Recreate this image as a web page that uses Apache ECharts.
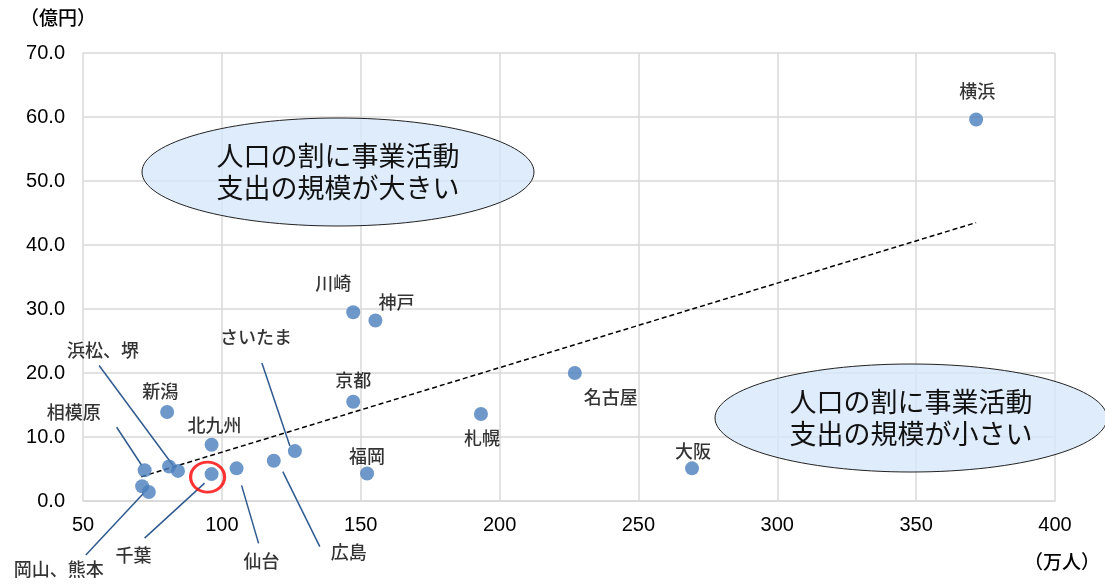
<!DOCTYPE html>
<html>
<head>
<meta charset="utf-8">
<script src="https://cdn.jsdelivr.net/npm/echarts@6/dist/echarts.min.js"></script>
<style>
html, body { margin: 0; padding: 0; background: #fff; }
#chart { width: 1105px; height: 584px; }
</style>
</head>
<body>
<div id="chart"></div>
<script>
// population (万人) vs. spending (億円)
var cities = ['横浜', '川崎', '神戸', '京都', '名古屋', '札幌', '福岡', '大阪', 'さいたま', '広島',
    '仙台', '千葉', '北九州', '新潟', '浜松', '堺', '相模原', '岡山', '熊本'];
var population = [371.6, 147.3, 155.3, 147.3, 227.1, 193.3, 152.3, 269.3, 126.3, 118.7,
    105.3, 96.3, 96.3, 80.3, 81.0, 84.2, 72.2, 71.3, 73.7];
var spending = [59.6, 29.5, 28.2, 15.5, 20.0, 13.6, 4.3, 5.1, 7.8, 6.3,
    5.1, 4.2, 8.8, 13.9, 5.4, 4.7, 4.8, 2.3, 1.4];
var pointLabels = ['横浜', '川崎', '神戸', '京都', '名古屋', '札幌', '福岡', '大阪', 'さいたま', '広島',
    '仙台', '千葉', '北九州', '新潟', '浜松、堺', '', '相模原', '', '岡山、熊本'];
var trendX = [71.0, 371.6];
var trendY = [3.8, 43.5];
var highlightCity = '千葉';
var noteBig = ['人口の割に事業活動', '支出の規模が大きい'];
var noteSmall = ['人口の割に事業活動', '支出の規模が小さい'];

// label placement (pixel offsets from the dot)
var labelOffset = {
    '横浜': [1, -28], '川崎': [-20, -29], '神戸': [21, -18], '京都': [0, -22],
    '名古屋': [36, 24], '札幌': [1, 24], '福岡': [0, -17], '大阪': [1, -17],
    'さいたま': [-39, -114], '広島': [75, 91], '仙台': [25, 93], '千葉': [-78, 81],
    '北九州': [3, -20], '新潟': [-7, -21], '浜松': [-66, -116], '相模原': [-71, -58],
    '熊本': [-90, 77]
};
var leaderLines = {
    '浜松': [[-70, -101], [4, -1]],
    '相模原': [[-28, -43], [-3, -5]],
    'さいたま': [[-33, -88], [-5, -5]],
    '熊本': [[-63, 63], [-5, 1]],
    '千葉': [[-67, 64], [-7, 9]],
    '仙台': [[5, 17], [22, 75]],
    '広島': [[9, 11], [46, 86]]
};

var jp = '"Noto Sans CJK JP", sans-serif';
var num = '"Liberation Sans", Arial, sans-serif';

var points = cities.map(function (c, i) {
    var off = labelOffset[c] || [0, 0];
    return {
        name: c,
        value: [population[i], spending[i]],
        label: { offset: off, formatter: pointLabels[i] }
    };
});
var hi = cities.indexOf(highlightCity);

var chart = echarts.init(document.getElementById('chart'));
chart.setOption({
    animation: false,
    backgroundColor: '#fff',
    grid: { left: 83, right: 50, top: 53, bottom: 83 },
    xAxis: {
        type: 'value', min: 50, max: 400, interval: 50,
        axisLine: { show: true, lineStyle: { color: '#d9d9d9', width: 1.5 } },
        axisTick: { show: false },
        axisLabel: { color: '#000', fontSize: 20, fontFamily: num, margin: 14 },
        splitLine: { show: true, lineStyle: { color: '#d9d9d9', width: 1.5 } }
    },
    yAxis: {
        type: 'value', min: 0, max: 70, interval: 10,
        axisLine: { show: false },
        axisTick: { show: false },
        axisLabel: {
            color: '#000', fontSize: 20, fontFamily: num, margin: 18,
            formatter: function (v) { return v.toFixed(1); }
        },
        splitLine: { show: true, lineStyle: { color: '#d9d9d9', width: 1.5 } }
    },
    series: [
        {
            type: 'line',
            data: [[trendX[0], trendY[0]], [trendX[1], trendY[1]]],
            symbol: 'none',
            lineStyle: { color: '#000', width: 1.5, type: [5, 3] },
            z: 1
        },
        {
            type: 'scatter',
            data: points,
            symbolSize: 14,
            itemStyle: { color: '#4a7ebb' },
            label: {
                show: true, position: 'inside', color: '#000',
                fontSize: 18, fontWeight: 500, fontFamily: jp
            },
            z: 3
        },
        {
            type: 'scatter',
            data: [[population[hi], spending[hi]]],
            symbolSize: [34, 30],
            symbolOffset: [-4, 3],
            itemStyle: { color: 'rgba(0,0,0,0)', borderColor: '#ff0000', borderWidth: 3 },
            silent: true,
            z: 4
        }
    ]
});

var g = [];
cities.forEach(function (c, i) {
    var ln = leaderLines[c];
    if (!ln) return;
    var p = chart.convertToPixel({ seriesIndex: 1 }, [population[i], spending[i]]);
    g.push({
        type: 'line', z: 1,
        shape: { x1: p[0] + ln[0][0], y1: p[1] + ln[0][1], x2: p[0] + ln[1][0], y2: p[1] + ln[1][1] },
        style: { stroke: '#2f5a8f', lineWidth: 1.5 }
    });
});

function note(cx, cy, lines) {
    g.push({
        type: 'ellipse', z: 5,
        shape: { cx: cx, cy: cy, rx: 196, ry: 54 },
        style: { fill: 'rgba(214,231,250,0.8)', stroke: '#222', lineWidth: 1 }
    });
    g.push({
        type: 'text', z: 6,
        x: cx, y: cy,
        style: {
            text: lines.join('\n'), fill: '#111', font: '27px ' + jp,
            lineHeight: 32, align: 'center', verticalAlign: 'middle'
        }
    });
}
note(338, 172, noteBig);
note(911, 418, noteSmall);

g.push({ type: 'text', z: 6, x: 58, y: 18,
    style: { text: '（億円）', fill: '#000', font: '500 19px ' + jp, align: 'center', verticalAlign: 'middle' } });
g.push({ type: 'text', z: 6, x: 1062, y: 562,
    style: { text: '（万人）', fill: '#000', font: '500 19px ' + jp, align: 'center', verticalAlign: 'middle' } });

chart.setOption({ graphic: g });
</script>
</body>
</html>
